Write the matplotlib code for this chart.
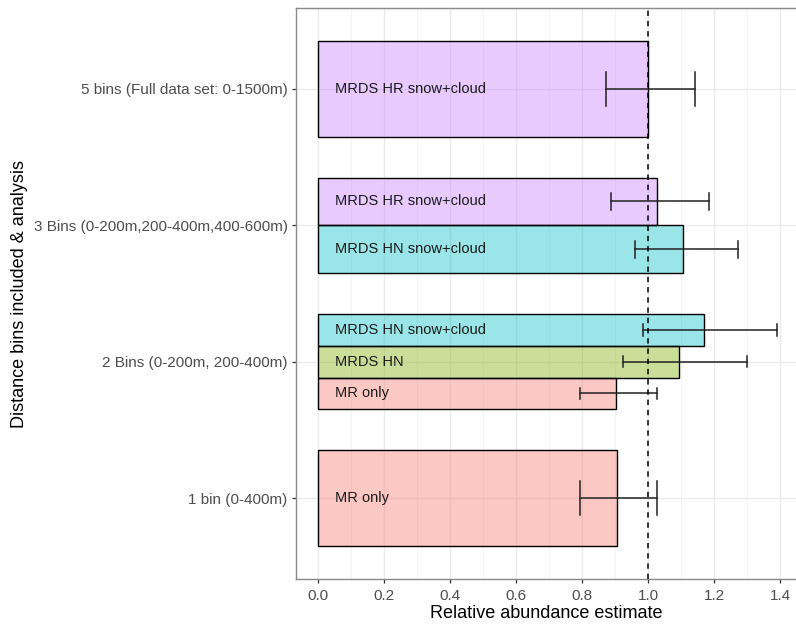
import numpy as np
import matplotlib.pyplot as plt

plt.rcParams['font.family'] = ['Liberation Sans', 'DejaVu Sans']

# categories on the y axis, bottom to top
categories = ["1 bin (0-400m)", "2 Bins (0-200m, 200-400m)",
              "3 Bins (0-200m,200-400m,400-600m)", "5 bins (Full data set: 0-1500m)"]
analyses = ["MR only", "MRDS HN", "MRDS HN snow+cloud", "MRDS HR snow+cloud"]
analysis_colors = ["#F8766D", "#7CAE00", "#00BFC4", "#C77CFF"]

# one row per bar
row_category = [0, 1, 1, 1, 2, 2, 3]
row_analysis = [0, 0, 1, 2, 2, 3, 3]
estimate = [0.905, 0.903, 1.095, 1.171, 1.107, 1.026, 1.000]
lower = [0.794, 0.794, 0.923, 0.986, 0.962, 0.889, 0.873]
upper = [1.026, 1.026, 1.299, 1.392, 1.272, 1.184, 1.142]

fig = plt.figure(figsize=(7.96, 6.25), dpi=100)
ax = fig.add_axes([296 / 796, 46 / 625, 500 / 796, 571 / 625])

total_w = 0.7
err_w = 0.25
for c in range(len(categories)):
    rows = [i for i in range(len(estimate)) if row_category[i] == c]
    n = len(rows)
    bw = total_w / n
    for k, i in enumerate(rows):
        yc = c - total_w / 2 + bw * (k + 0.5)
        col = analysis_colors[row_analysis[i]]
        ax.barh(yc, estimate[i], height=bw, color=col, alpha=0.4,
                edgecolor='none', zorder=2)
        ax.barh(yc, estimate[i], height=bw, facecolor='none',
                edgecolor='black', linewidth=1.0, zorder=3)
        ax.text(0.05, yc, analyses[row_analysis[i]], ha='left', va='center',
                fontsize=10.5, color='#1a1a1a', zorder=5)
        cap = err_w / n / 2
        ax.plot([lower[i], upper[i]], [yc, yc], color='#222222', lw=1.1, zorder=4)
        for xv in (lower[i], upper[i]):
            ax.plot([xv, xv], [yc - cap, yc + cap], color='#222222', lw=1.1, zorder=4)

ax.axvline(1.0, color='black', lw=1.1, linestyle=(0, (3.5, 3.2)), zorder=4)

ax.set_xlim(-0.0667, 1.4485)
ax.set_ylim(-0.594, 3.594)
ax.set_xticks(np.arange(0, 1.41, 0.2))
ax.set_xticks(np.arange(0.1, 1.41, 0.2), minor=True)
ax.set_xticklabels([f"{v:.1f}" for v in np.arange(0, 1.41, 0.2)])
ax.set_yticks(range(len(categories)))
ax.set_yticklabels(categories)

ax.grid(which='major', color='#EBEBEB', lw=1.0, zorder=0)
ax.grid(which='minor', axis='x', color='#F2F2F2', lw=0.6, zorder=0)
ax.set_axisbelow(True)

ax.tick_params(axis='both', which='major', length=3, width=0.9, color='#333333',
               labelcolor='#4D4D4D', labelsize=11, pad=3)
ax.tick_params(axis='x', which='major', pad=4)
ax.tick_params(axis='both', which='minor', length=0)
for s in ['left', 'top', 'bottom']:
    ax.spines[s].set_color('#8a8a8a')
    ax.spines[s].set_linewidth(1.0)
ax.spines['right'].set_visible(False)

ax.set_xlabel("Relative abundance estimate", fontsize=13, color='black', labelpad=2)
ax.set_ylabel("Distance bins included & analysis", fontsize=13, color='black', labelpad=4)

fig.savefig("out.png", dpi=100)
